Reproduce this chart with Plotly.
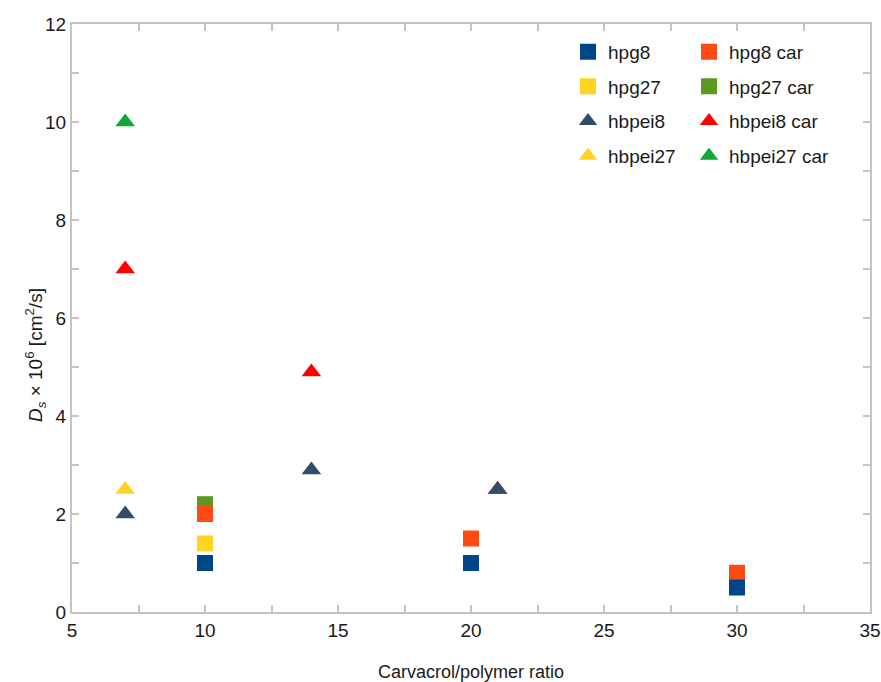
import plotly.graph_objects as go

# Data
hpg8_x = [10, 20, 30]
hpg8_y = [1.0, 1.0, 0.5]
hpg8car_x = [10, 20, 30]
hpg8car_y = [2.0, 1.5, 0.8]
hpg27_x = [10]
hpg27_y = [1.4]
hpg27car_x = [10]
hpg27car_y = [2.2]
hbpei8_x = [7, 14, 21]
hbpei8_y = [2.0, 2.9, 2.5]
hbpei8car_x = [7, 14, 21]
hbpei8car_y = [7.0, 4.9, 2.5]
hbpei27_x = [7]
hbpei27_y = [2.5]
hbpei27car_x = [7]
hbpei27car_y = [10.0]

FONT = "Liberation Sans, Arial, sans-serif"

# (name, x, y, symbol, color, legend, rank)  -- drawn in this order
series = [
    ("hpg27 car", hpg27car_x, hpg27car_y, "square", "#5B9A1F", "legend2", 2),
    ("hpg8 car", hpg8car_x, hpg8car_y, "square", "#FF4A14", "legend2", 1),
    ("hbpei8 car", hbpei8car_x, hbpei8car_y, "triangle-up", "#FF0000", "legend2", 3),
    ("hbpei27 car", hbpei27car_x, hbpei27car_y, "triangle-up", "#12A632", "legend2", 4),
    ("hpg27", hpg27_x, hpg27_y, "square", "#FFD320", "legend", 2),
    ("hpg8", hpg8_x, hpg8_y, "square", "#004587", "legend", 1),
    ("hbpei27", hbpei27_x, hbpei27_y, "triangle-up", "#FFD320", "legend", 4),
    ("hbpei8", hbpei8_x, hbpei8_y, "triangle-up", "#314D68", "legend", 3),
]

fig = go.Figure()
for name, xs, ys, sym, col, lg, rank in series:
    fig.add_trace(go.Scatter(
        x=xs, y=ys, mode="markers", name=name,
        marker=dict(symbol=sym, size=16 if sym == "square" else 17, color=col,
                    line=dict(width=0)),
        legend=lg, legendrank=rank, legendgroup=name,
    ))

LINE_COL = "#c4c4c4"
axis_common = dict(
    showline=True, linecolor=LINE_COL, linewidth=2, mirror="ticks",
    ticks="inside", ticklen=7, tickcolor=LINE_COL, tickwidth=2,
    showgrid=False, zeroline=False, automargin=False,
    tickfont=dict(family=FONT, size=19, color="#1a1a1a"),
)

legend_common = dict(
    xanchor="left", yanchor="top",
    font=dict(family=FONT, size=19, color="#1a1a1a"),
    bgcolor="rgba(0,0,0,0)", tracegroupgap=7, itemwidth=30,
)

fig.update_layout(
    width=881, height=682,
    margin=dict(l=72, r=11, t=24, b=70),
    paper_bgcolor="white", plot_bgcolor="white",
    font=dict(family=FONT, color="#1a1a1a"),
    xaxis=dict(range=[5, 35], tick0=5, dtick=5,
               minor=dict(ticks="inside", dtick=2.5, tick0=5, ticklen=7, tickwidth=2,
                          tickcolor=LINE_COL, showgrid=False),
               title=dict(text="Carvacrol/polymer ratio", font=dict(family=FONT, size=18), standoff=26),
               **axis_common),
    yaxis=dict(range=[0, 12], tick0=0, dtick=2,
               minor=dict(ticks="inside", dtick=1, tick0=0, ticklen=7, tickwidth=2,
                          tickcolor=LINE_COL, showgrid=False),
               **axis_common),
    legend=dict(x=0.6216, y=0.985, **legend_common),
    legend2=dict(x=0.7732, y=0.985, **legend_common),
    annotations=[dict(
        text="<i>D</i><sub><i>s</i></sub> × 10<sup>6</sup> [cm<sup>2</sup>/s]",
        xref="paper", yref="paper", x=-0.0464, y=0.437,
        xanchor="center", yanchor="middle", textangle=-90, showarrow=False,
        font=dict(family=FONT, size=19, color="#1a1a1a"),
    )],
)

fig.write_html("out.html")
